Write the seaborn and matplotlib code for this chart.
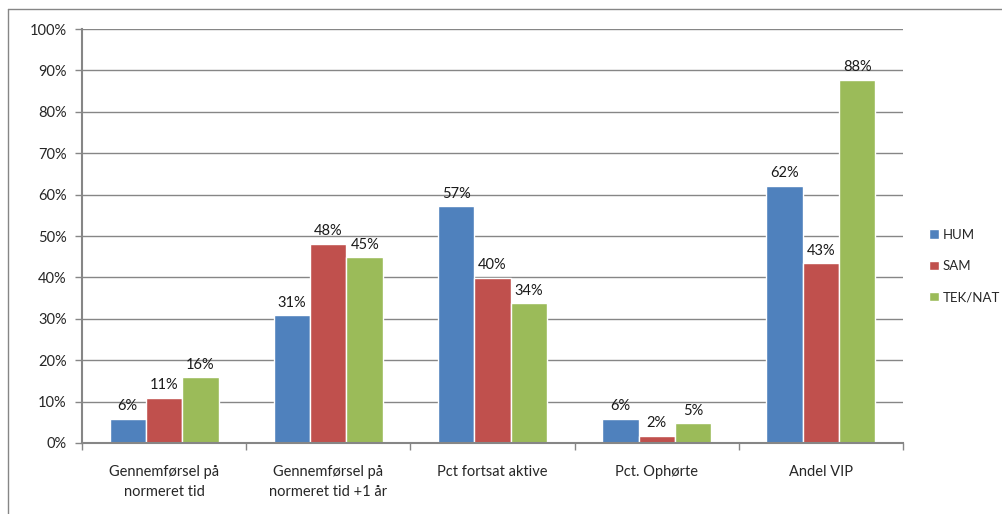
import pandas as pd
import matplotlib.pyplot as plt
import seaborn as sns
from matplotlib.patches import Patch
from matplotlib.lines import Line2D
from matplotlib.ticker import PercentFormatter, MultipleLocator

# Chart data
categories = ['Gennemførsel på\nnormeret tid', 'Gennemførsel på\nnormeret tid +1 år',
              'Pct fortsat aktive', 'Pct. Ophørte', 'Andel VIP']
series = ['HUM', 'SAM', 'TEK/NAT']
hum = [5.8, 30.9, 57.2, 5.8, 62.1]
sam = [10.9, 48.1, 39.9, 1.7, 43.4]
tek = [15.9, 44.9, 33.8, 4.8, 87.7]
colors = ['#4F81BD', '#C0504D', '#9BBB59']

df = pd.DataFrame({
    'category': categories * 3,
    'series': [s for s in series for _ in categories],
    'value': hum + sam + tek,
})

sns.set_style('white')
plt.rcParams['font.family'] = ['Lato', 'DejaVu Sans']
grey = '#868686'

fig = plt.figure(figsize=(10.03, 5.14), dpi=100)
ax = fig.add_axes([82 / 1003, 71 / 514, 821 / 1003, 414 / 514])

sns.barplot(data=df, x='category', y='value', hue='series', palette=colors,
            width=0.665, gap=0, saturation=1, ax=ax, legend=False)

for cont in ax.containers:
    ax.bar_label(cont, labels=[f'{round(v)}%' for v in cont.datavalues],
                 padding=4, fontsize=10.5, color='#1a1a1a')

ax.set_ylim(0, 100)
ax.set_xlim(-0.5, len(categories) - 0.5)
ax.yaxis.set_major_locator(MultipleLocator(10))
ax.yaxis.set_major_formatter(PercentFormatter(decimals=0))
ax.grid(axis='y', color=grey, linewidth=1)
ax.set_axisbelow(True)
ax.set_xlabel('')
ax.set_ylabel('')

for side in ['top', 'right']:
    ax.spines[side].set_visible(False)
for side in ['left', 'bottom']:
    ax.spines[side].set_color(grey)
    ax.spines[side].set_linewidth(1.5)

ax.tick_params(axis='y', length=5, width=1, color=grey, labelsize=10.5, pad=6, left=True)
ax.set_xticks([x - 0.5 for x in range(len(categories) + 1)], minor=True)
ax.tick_params(axis='x', which='minor', length=5, width=1, color=grey, bottom=True)
ax.tick_params(axis='x', which='major', length=0, labelsize=10.5, pad=16)
for lbl in ax.get_xticklabels():
    lbl.set_linespacing(1.5)
    lbl.set_verticalalignment('top')

handles = [Patch(facecolor=c, label=s) for s, c in zip(series, colors)]
fig.legend(handles=handles, loc='center left', bbox_to_anchor=(929 / 1003, 1 - 266 / 514),
           frameon=False, fontsize=9.5, handlelength=0.75, handleheight=0.75,
           handletextpad=0.3, labelspacing=1.45, borderaxespad=0, borderpad=0)

# outer chart border (only left and top are visible in the crop)
fig.add_artist(Line2D([8 / 1003, 8 / 1003], [0, 1 - 9 / 514], color=grey, linewidth=1,
                      transform=fig.transFigure))
fig.add_artist(Line2D([8 / 1003, 1], [1 - 9 / 514, 1 - 9 / 514], color=grey, linewidth=1,
                      transform=fig.transFigure))

fig.savefig('out.png', dpi=100)
